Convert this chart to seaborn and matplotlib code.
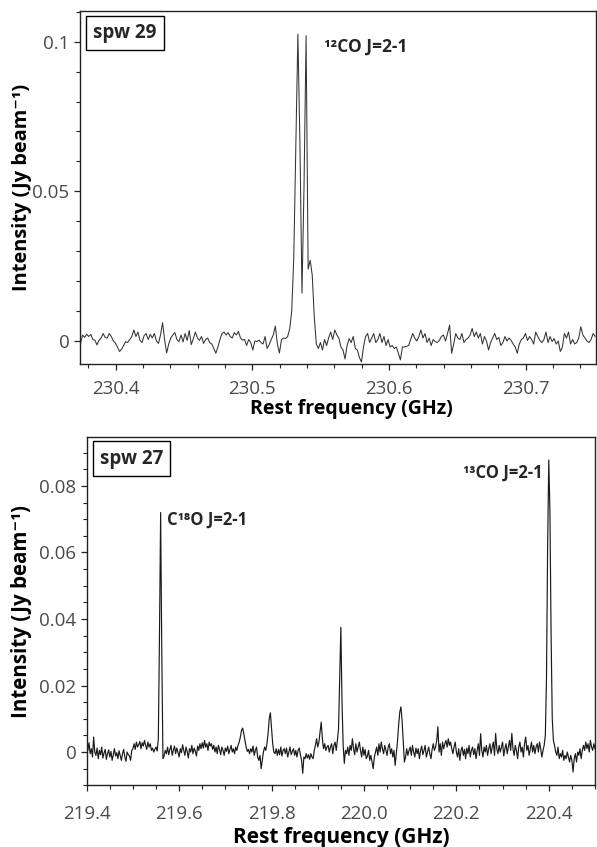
import numpy as np
import pandas as pd
import matplotlib
matplotlib.use("Agg")
import matplotlib.pyplot as plt
import seaborn as sns
from matplotlib.ticker import MultipleLocator

# ---------------- data ----------------
# spw 29 : channel frequencies (GHz) and intensities (mJy/beam)
spw29_f0 = 230.3744
spw29_df = 0.0015
spw29_mjy = [
    -0.8, 2.0, 1.2, 2.3, 1.5, 2.2, 0.5, 0.3, -1.3, 0.2,
    1.0, 2.5, 1.2, 1.0, 2.5, 1.5, 0.0, -0.7, -2.0, -3.5,
    -2.8, -1.5, -0.2, -0.5, 0.5, 1.5, 3.7, 1.5, 3.0, 0.2,
    -0.5, 1.8, 2.5, 0.5, 2.2, 1.0, 2.5, 0.0, -0.8, 2.0,
    6.1, 0.5, -4.0, -1.0, 1.0, 2.0, 2.8, 0.5, -0.2, 2.0,
    -0.3, 2.5, 0.2, 3.5, -1.2, 0.8, 3.0, 1.0, 0.2, 1.5,
    -0.8, 0.5, 1.0, -0.5, -1.0, -2.5, -4.1, -2.0, 0.5, 2.5,
    3.0, 2.0, 2.8, 1.5, 1.0, 2.8, 2.0, 3.2, 1.0, 0.3,
    0.5, -1.5, 0.5, -0.5, -3.0, 0.0, -0.2, 0.3, -0.5, -1.0,
    1.5, -2.5, -1.2, 0.5, 2.0, 5.0, -1.0, -4.0, 0.5, 1.0,
    0.8, 1.5, 4.0, 10.0, 28.0, 65.0, 102.5, 66.0, 16.0, 52.0,
    102.0, 24.0, 27.0, 22.0, 8.0, -1.0, -2.5, -0.5, -3.0, 0.5,
    -1.5, 1.0, 3.0, 0.5, 3.7, 2.0, 1.0, -2.0, -3.0, -6.0,
    -1.5, 0.8, -0.5, 1.5, -2.5, -3.0, -5.5, -7.0, -2.0, 1.5,
    2.5, -0.5, 1.0, 2.5, -0.5, 0.5, 2.5, -0.5, 1.5, -1.5,
    0.5, -2.0, -1.5, -2.5, -2.0, -4.0, -6.3, -2.0, -2.0, -1.8,
    -1.5, 0.5, 2.5, 1.0, 0.0, 1.5, 3.7, 1.0, 2.5, -0.5,
    1.0, -1.5, 0.5, -0.2, -0.5, 0.2, 1.5, 2.0, 0.0, 2.5,
    5.3, -4.1, -1.0, 2.5, 1.0, 0.5, 2.5, -0.5, 0.5, 1.0,
    2.0, 4.2, 1.5, 3.0, 1.0, 2.5, -1.0, 1.5, 0.0, -3.0,
    -0.5, 1.0, 2.5, 0.5, 1.2, -1.5, -0.5, 1.5, 0.0, 1.0,
    0.2, -1.0, -2.0, -4.1, -1.0, 0.5, 1.0, 2.5, 0.2, 1.5,
    0.5, -1.0, 3.0, 1.5, 0.2, -0.5, 0.5, 3.0, -0.5, 1.5,
    -0.2, 0.8, -1.0, 0.0, -3.5, -2.0, 2.5, 1.0, 3.0, -1.0,
    0.5, -1.0, -0.5, 1.0, 4.8, 2.0, 1.0, 0.0, -0.5, 0.5,
    2.5, 1.5,
]

# spw 27 : channel frequencies (GHz) and intensities (mJy/beam)
spw27_f0 = 219.4
spw27_df = 0.0025
spw27_mjy = [
    1.5, 0.5, 2.8, -0.5, 1.0, -1.5, 4.5, 0.0, -1.0, 1.2,
    -2.0, 0.5, -0.8, 1.5, -1.8, -0.3, 0.8, -2.2, -0.5, 0.6,
    -1.5, 0.2, -2.5, -0.8, 1.0, -1.2, -0.2, -2.0, 0.4, -1.0,
    -2.5, -0.5, 0.8, -1.5, -2.8, 0.0, -0.8, -1.2, -2.5, 0.5,
    1.0, 2.5, 0.8, 3.0, 1.5, 2.2, 3.2, 1.0, 2.8, 1.8,
    3.5, 2.0, 0.8, 3.0, 1.5, 2.5, 0.5, 1.2, 0.0, 0.8,
    1.5, 0.3, 4.0, 35.0, 72.0, 30.0, -2.0, -1.2, 0.5, -0.5,
    1.5, -0.8, 0.8, 2.0, -1.0, 0.5, 1.8, -0.5, 1.2, 0.0,
    -1.5, 1.0, -0.2, 2.2, 0.5, -1.0, 1.5, 0.2, -1.8, 1.0,
    0.0, 2.0, -0.5, 1.2, 0.3, -1.2, 1.8, 0.5, 2.5, 1.0,
    2.8, 1.2, 3.5, 1.5, 2.5, 0.5, 3.0, 1.8, 2.5, 0.8,
    2.0, 0.0, 1.5, -0.5, 2.0, 0.8, -0.8, 1.5, 0.5, -1.0,
    1.2, 0.2, 1.8, -0.5, 0.8, 2.0, 0.0, 1.0, -0.5, 1.5,
    0.5, 2.0, 3.0, 4.5, 6.5, 7.2, 5.5, 3.5, 1.5, 0.2,
    0.8, -0.5, 1.0, 0.0, 1.8, -1.0, 0.5, 1.5, -1.5, -2.5,
    -1.0, -5.0, -2.5, 0.0, 1.5, 0.5, 2.5, 5.5, 10.0, 11.8,
    7.0, 2.5, 0.0, -0.5, 1.0, -1.0, 0.8, -0.8, 1.5, -1.2,
    0.5, 1.0, -0.5, 1.2, -1.5, 0.0, 1.5, -0.8, 0.2, 1.0,
    -1.0, 0.5, -1.5, 0.5, 1.2, -0.8, -2.5, -6.4, -1.5, -2.0,
    -0.5, -1.8, -0.8, -2.2, -0.5, -1.5, -2.0, 0.5, 2.0, 4.0,
    1.5, 3.0, 6.0, 9.0, 4.0, 1.0, 2.5, 0.5, 1.5, 2.0,
    0.0, 1.5, 2.5, -0.5, 2.0, 3.0, 0.5, 3.5, 7.0, 22.0,
    37.5, 15.0, 2.0, -3.4, 0.5, -0.5, 1.5, -1.0, 2.0, 0.5,
    4.0, 1.0, -0.8, 2.5, 0.0, 1.5, 3.0, 0.5, -1.5, 1.5,
    -1.0, 0.8, -2.0, -1.2, 0.5, -2.5, -1.0, -3.0, -5.0, -1.5,
    0.0, 1.5, -1.0, 2.5, 0.0, 3.0, 1.0, -0.5, 2.0, 0.5,
    -1.0, 1.5, 2.5, -0.5, 1.0, -1.5, 0.5, -4.0, -0.5, 3.0,
    8.0, 12.0, 13.6, 9.5, 3.0, -3.0, -1.5, 1.0, -1.0, 0.5,
    1.5, -1.0, 2.0, 0.0, -1.5, 1.2, -0.5, 1.0, -2.0, 0.5,
    1.8, -0.8, 0.5, 2.0, -1.5, 0.0, 1.5, -0.5, -2.0, 0.8,
    2.5, 0.5, 1.5, 3.5, 7.6, 0.0, 2.5, -1.0, 3.0, 1.0,
    2.5, 3.5, 1.5, 4.0, 2.0, 3.0, 1.0, -0.5, 1.5, 3.0,
    0.0, -1.5, 1.0, -2.5, 0.5, 1.5, -1.0, 0.8, -2.0, 1.2,
    -0.5, 2.0, -1.5, 0.5, 1.5, -0.8, 1.0, -2.0, 0.5, 2.5,
    -1.0, 5.5, 0.5, -1.5, 1.5, 0.0, 2.0, -1.0, 1.0, 2.5,
    -0.5, 1.5, 3.0, -1.0, 5.6, 1.0, -0.5, 2.0, 0.0, 1.5,
    3.0, -1.2, 1.0, 2.5, -0.5, 1.5, 3.5, 0.5, 5.6, 1.0,
    -1.0, 2.0, 0.5, -2.0, 1.5, 3.0, 0.0, 1.5, -1.5, 2.5,
    4.5, 0.5, 2.0, -1.0, 1.0, 3.0, 0.0, 2.0, -0.5, 1.5,
    2.5, 0.0, 3.0, 1.0, -1.5, 0.5, 2.0, 5.0, 22.0, 62.0,
    87.8, 72.0, 35.0, 10.0, 3.5, 2.0, 0.0, -1.0, 1.5, -2.0,
    -0.5, -1.5, 0.5, -2.5, -1.0, -2.0, 0.0, -1.5, -3.0, -1.0,
    -2.5, -6.0, -2.0, -0.5, -3.0, 0.0, -1.0, 1.0, -2.0, 0.5,
    2.0, 0.5, 3.0, 1.0, 2.5, 0.0, 3.5, 1.5, 0.5, 2.5,
    1.0,
]

spw29_xticks = [230.4, 230.5, 230.6, 230.7]
spw29_yticks = [0, 0.05, 0.1]
spw29_yticklabels = ["0", "0.05", "0.1"]
spw27_xticks = [219.4, 219.6, 219.8, 220.0, 220.2, 220.4]
spw27_yticks = [0, 0.02, 0.04, 0.06, 0.08]
spw27_yticklabels = ["0", "0.02", "0.04", "0.06", "0.08"]

df29 = pd.DataFrame({
    "freq": spw29_f0 + spw29_df * np.arange(len(spw29_mjy)),
    "inten": np.array(spw29_mjy) / 1000.0,
})
df27 = pd.DataFrame({
    "freq": spw27_f0 + spw27_df * np.arange(len(spw27_mjy)),
    "inten": np.array(spw27_mjy) / 1000.0,
})

# ---------------- style ----------------
sns.set_theme(style="ticks")
FAM = ["Open Sans", "DejaVu Sans"]
plt.rcParams["font.family"] = FAM
TICKC = "#4a4a4a"

W, H = 597, 847
fig = plt.figure(figsize=(W / 100, H / 100), dpi=100)


def px_axes(l, t, r, b):
    return fig.add_axes([l / W, 1 - b / H, (r - l) / W, (b - t) / H])


ax1 = px_axes(80, 11, 596, 364)
ax2 = px_axes(86.7, 436.7, 595, 785.3)

sns.lineplot(data=df29, x="freq", y="inten", ax=ax1, color="#333333",
             linewidth=0.75, estimator=None, sort=False)
sns.lineplot(data=df27, x="freq", y="inten", ax=ax2, color="#1a1a1a",
             linewidth=0.85, estimator=None, sort=False)

ax1.set_xlim(230.374, 230.7515)
ax1.set_ylim(-0.00768, 0.11025)
ax2.set_xlim(219.4, 220.5)
ax2.set_ylim(-0.0100, 0.0948)

ax1.set_xticks(spw29_xticks)
ax1.set_xticklabels([f"{v:.1f}" for v in spw29_xticks])
ax1.set_yticks(spw29_yticks)
ax1.set_yticklabels(spw29_yticklabels)
ax1.xaxis.set_minor_locator(MultipleLocator(0.02))
ax1.yaxis.set_minor_locator(MultipleLocator(0.01))

ax2.set_xticks(spw27_xticks)
ax2.set_xticklabels([f"{v:.1f}" for v in spw27_xticks])
ax2.set_yticks(spw27_yticks)
ax2.set_yticklabels(spw27_yticklabels)
ax2.xaxis.set_minor_locator(MultipleLocator(0.05))
ax2.yaxis.set_minor_locator(MultipleLocator(0.005))

for ax, xpad, xls, yls in ((ax1, 7.0, 14, 14.4), (ax2, 9.5, 15, 14.8)):
    for s in ax.spines.values():
        s.set_visible(True)
        s.set_color("#222222")
        s.set_linewidth(1.0)
    ax.tick_params(which="major", direction="out", length=4.5, width=0.9,
                   color="#222222", labelsize=13.5, labelcolor=TICKC, pad=3)
    ax.tick_params(axis="x", which="major", pad=xpad)
    ax.tick_params(which="minor", direction="out", length=3, width=0.8,
                   color="#222222")
    ax.set_xlabel("Rest frequency (GHz)", fontsize=xls, fontweight="bold",
                  color="black")
    ax.set_ylabel("Intensity (Jy beam⁻¹)", fontsize=yls, fontweight="bold",
                  color="black")
    ax.xaxis.label.set_va("center")
    ax.yaxis.label.set_va("center")

ax1.xaxis.set_label_coords((351 - 80) / 516, (364 - 409) / 353)
ax1.yaxis.set_label_coords((22 - 80) / 516, 0.5)
ax2.xaxis.set_label_coords(0.5, (785.3 - 837.5) / 348.6)
ax2.yaxis.set_label_coords((22 - 86.7) / 508.3, 0.5)

box = dict(boxstyle="square,pad=0.38", fc="white", ec="black", lw=1.0)
ax1.text(0.0255, 0.966, "spw 29", transform=ax1.transAxes, ha="left",
         va="top", fontsize=13.5, fontweight="bold", bbox=box)
ax2.text(0.0255, 0.966, "spw 27", transform=ax2.transAxes, ha="left",
         va="top", fontsize=13.5, fontweight="bold", bbox=box)

ax1.text(230.5523, 0.0982, "¹²CO J=2-1", fontsize=12.5, fontweight="bold",
         ha="left", va="center", family=FAM)
ax2.text(219.574, 0.0698, "C¹⁸O J=2-1", fontsize=12, fontweight="bold",
         ha="left", va="center", family=FAM)
ax2.text(220.3866, 0.0840, "¹³CO J=2-1", fontsize=12, fontweight="bold",
         ha="right", va="center", family=FAM)

fig.savefig("out.png", dpi=100)
